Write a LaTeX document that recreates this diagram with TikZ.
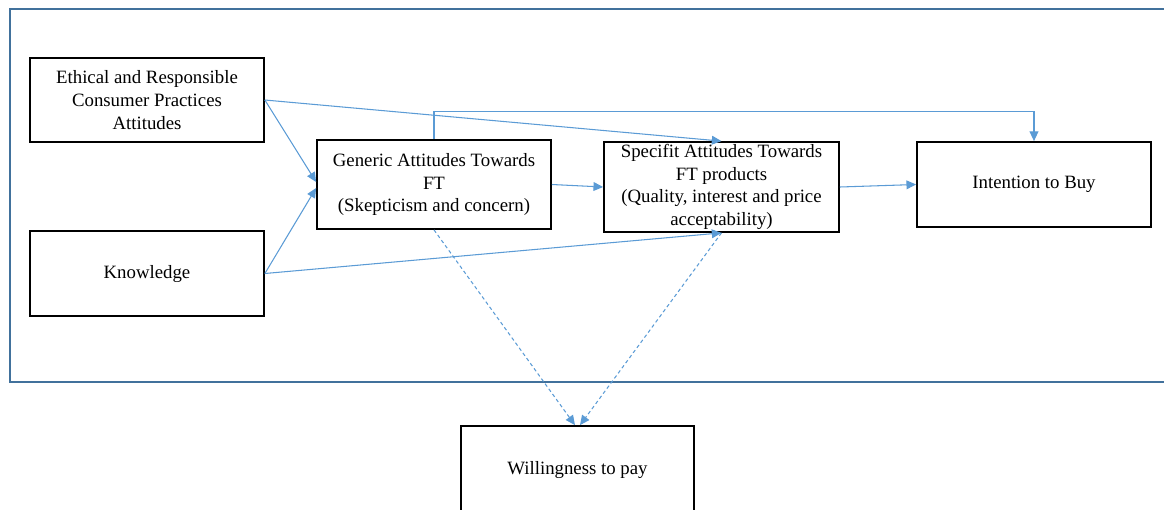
\documentclass[tikz,border=0pt]{standalone}
\usepackage{fontspec}
\setmainfont{Liberation Serif}
\usetikzlibrary{arrows.meta}

\definecolor{linkblue}{HTML}{5B9BD5}
\definecolor{frameblue}{HTML}{41719C}

\begin{document}
\begin{tikzpicture}[
    scale=1,
    concept/.style={draw=black, line width=1pt, rectangle, align=center, inner sep=1pt,
      font=\fontsize{10.7}{12.9}\selectfont},
    link/.style={draw=linkblue, line width=0.6pt, -{Triangle[length=5.5pt,width=5pt]}},
    wtplink/.style={link, dash pattern=on 2pt off 1.6pt},
    frame/.style={draw=frameblue, line width=1.1pt}
  ]

  \useasboundingbox (0,0) rectangle (23.28,-10.18);

  \draw[frame] (23.5,-0.18) -- (0.2,-0.18) -- (0.2,-7.64) -- (23.5,-7.64);

  \node[concept, minimum width=4.68cm, minimum height=1.68cm] (eth) at (2.94,-2.00)
    {Ethical and Responsible\\Consumer Practices\\Attitudes};
  \node[concept, minimum width=4.68cm, minimum height=1.70cm] (know) at (2.94,-5.47) {Knowledge};
  \node[concept, minimum width=4.68cm, minimum height=1.78cm] (gen) at (8.68,-3.69)
    {Generic Attitudes Towards\\FT\\(Skepticism and concern)};
  \node[concept, minimum width=4.70cm, minimum height=1.80cm] (spec) at (14.43,-3.74)
    {Specifit Attitudes Towards\\FT products\\(Quality, interest and price\\acceptability)};
  \node[concept, minimum width=4.68cm, minimum height=1.70cm] (int) at (20.68,-3.69) {Intention to Buy};
  \node[concept, minimum width=4.66cm, minimum height=1.76cm] (wtp) at (11.55,-9.40) {Willingness to pay};

  \draw[link] (eth.east) -- ([yshift=0.05cm]gen.west);
  \draw[link] (know.east) -- ([yshift=-0.07cm]gen.west);
  \draw[link] (eth.east) -- (spec.north);
  \draw[link] (know.east) -- (spec.south);
  \draw[link] (gen.north) -- ++(0,0.56) -| (int.north);
  \draw[link] (gen.east) -- (spec.west);
  \draw[link] (spec.east) -- (int.west);

  \draw[wtplink] (gen.south) -- ([xshift=-0.05cm]wtp.north);
  \draw[wtplink] (spec.south) -- ([xshift=0.05cm]wtp.north);

\end{tikzpicture}
\end{document}
